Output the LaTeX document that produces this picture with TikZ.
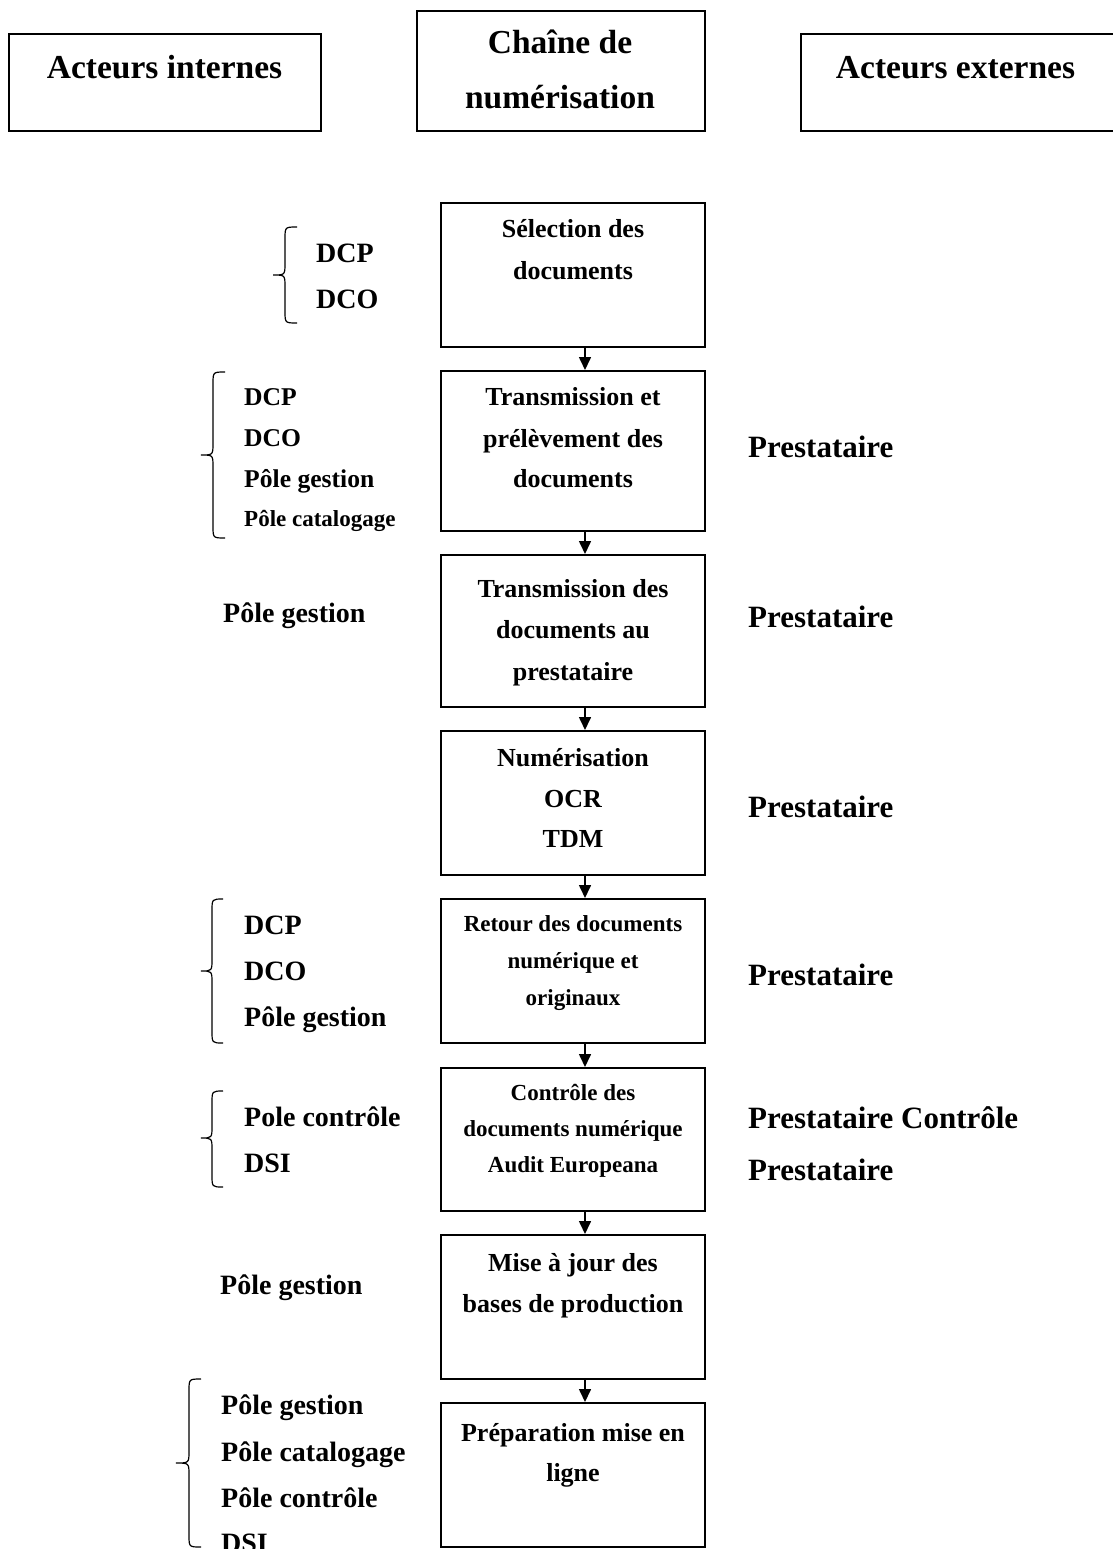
\documentclass[tikz,border=0pt]{standalone}
\usepackage{fontspec}
\setmainfont{Liberation Serif}
\usetikzlibrary{arrows.meta}
\tikzset{
  box/.style={draw=black, line width=2pt, rectangle, inner sep=0pt},
  txt/.style={inner sep=0pt, text height=0.662em, text depth=0pt},
  hdr/.style={txt, yshift=-8pt, font=\fontsize{33.5}{40}\selectfont\bfseries},
  bt/.style={txt, yshift=-6pt, font=\fontsize{26}{30}\selectfont\bfseries},
  bts/.style={txt, yshift=-5.5pt, font=\fontsize{23}{27}\selectfont\bfseries},
  lbl/.style={txt, yshift=-6.5pt, anchor=west, font=\fontsize{28}{32}\selectfont\bfseries},
  lblm/.style={txt, yshift=-6pt, anchor=west, font=\fontsize{25.6}{30}\selectfont\bfseries},
  lbls/.style={txt, yshift=-5.5pt, anchor=west, font=\fontsize{23}{27}\selectfont\bfseries},
  ext/.style={txt, yshift=-7pt, anchor=west, font=\fontsize{31}{36}\selectfont\bfseries},
  arr/.style={line width=1.6pt, -{Triangle[width=12pt,length=13pt]}},
  brc/.style={line width=1.2pt},
}
\newcommand{\mybrace}[6]{% T B M xt xv xe
  \draw[brc] (#6,#1) .. controls (#5,#1) .. (#5,#1+12) -- (#5,#3-12)
     .. controls (#5,#3) .. (#4,#3) .. controls (#5,#3) .. (#5,#3+12)
     -- (#5,#2-12) .. controls (#5,#2) .. (#6,#2);}
\begin{document}
\begin{tikzpicture}[x=1pt,y=-1pt]
\useasboundingbox (0,0) rectangle (1112,1549);

% headers
\node[box, minimum width=312pt, minimum height=97pt] (hL) at (164.5,82.5) {};
\node[hdr] (hLt) at (164.5,67) {Acteurs internes};
\node[box, minimum width=288.5pt, minimum height=120pt] (hC) at (561,71) {};
\node[hdr] (hCt1) at (560,42) {Chaîne de};
\node[hdr] (hCt2) at (560,97) {numérisation};
\node[box, minimum width=313pt, minimum height=97pt] (hR) at (957.5,82.5) {};
\node[hdr] (hRt) at (955.5,67) {Acteurs externes};

% flow boxes
\node[box, minimum width=264pt, minimum height=144pt] (n1) at (573,275) {};
\node[box, minimum width=264pt, minimum height=160pt] (n2) at (573,451) {};
\node[box, minimum width=264pt, minimum height=152pt] (n3) at (573,631) {};
\node[box, minimum width=264pt, minimum height=144pt] (n4) at (573,803) {};
\node[box, minimum width=264pt, minimum height=144pt] (n5) at (573,971) {};
\node[box, minimum width=264pt, minimum height=143pt] (n6) at (573,1139.5) {};
\node[box, minimum width=264pt, minimum height=144pt] (n7) at (573,1307) {};
\node[box, minimum width=264pt, minimum height=144pt] (n8) at (573,1475) {};

% box texts
\node[bt] (n1a) at (573,228) {Sélection des};
\node[bt] (n1b) at (573,270) {documents};
\node[bt] (n2a) at (573,396) {Transmission et};
\node[bt] (n2b) at (573,438) {prélèvement des};
\node[bt] (n2c) at (573,478) {documents};
\node[bt] (n3a) at (573,588) {Transmission des};
\node[bt] (n3b) at (573,629) {documents au};
\node[bt] (n3c) at (573,671) {prestataire};
\node[bt] (n4a) at (573,757) {Numérisation};
\node[bt] (n4b) at (573,798) {OCR};
\node[bt] (n4c) at (573,838) {TDM};
\node[bts] (n5a) at (573,923) {Retour des documents};
\node[bts] (n5b) at (573,960) {numérique et};
\node[bts] (n5c) at (573,997) {originaux};
\node[bts] (n6a) at (573,1092) {Contrôle des};
\node[bts] (n6b) at (573,1128) {documents numérique};
\node[bts] (n6c) at (573,1164) {Audit Europeana};
\node[bt] (n7a) at (573,1262) {Mise à jour des};
\node[bt] (n7b) at (573,1303) {bases de production};
\node[bt] (n8a) at (573,1432) {Préparation mise en};
\node[bt] (n8b) at (573,1472) {ligne};

% arrows
\foreach \a/\b in {n1/n2,n2/n3,n3/n4,n4/n5,n5/n6,n6/n7,n7/n8}
  \draw[arr] ([xshift=12pt]\a.south) -- ([xshift=12pt]\b.north);

% left labels
\node[lbl] (l1a) at (316,253) {DCP};
\node[lbl] (l1b) at (316,299) {DCO};
\node[lblm] (l2a) at (244,396) {DCP};
\node[lblm] (l2b) at (244,437) {DCO};
\node[lblm] (l2c) at (244,478) {Pôle gestion};
\node[lbls] (l2d) at (244,518) {Pôle catalogage};
\node[lbl] (l3) at (223,613) {Pôle gestion};
\node[lbl] (l5a) at (244,925) {DCP};
\node[lbl] (l5b) at (244,971) {DCO};
\node[lbl] (l5c) at (244,1017) {Pôle gestion};
\node[lbl] (l6a) at (244,1117) {Pole contrôle};
\node[lbl] (l6b) at (244,1163) {DSI};
\node[lbl] (l7) at (220,1285) {Pôle gestion};
\node[lbl] (l8a) at (221,1405) {Pôle gestion};
\node[lbl] (l8b) at (221,1452) {Pôle catalogage};
\node[lbl] (l8c) at (221,1498) {Pôle contrôle};
\node[lbl] (l8d) at (221,1543) {DSI};

% braces
\mybrace{227}{323}{275}{273}{285}{297}
\mybrace{372}{538}{455}{201}{213}{225}
\mybrace{899}{1043}{971}{201}{212}{223}
\mybrace{1091}{1187}{1138}{201}{212}{223}
\mybrace{1379}{1547}{1463}{176}{189}{201}

% right labels
\node[ext] (r2) at (748,447) {Prestataire};
\node[ext] (r3) at (748,617) {Prestataire};
\node[ext] (r4) at (748,807) {Prestataire};
\node[ext] (r5) at (748,975) {Prestataire};
\node[ext] (r6a) at (748,1118) {Prestataire Contrôle};
\node[ext] (r6b) at (748,1170) {Prestataire};
\end{tikzpicture}
\end{document}
